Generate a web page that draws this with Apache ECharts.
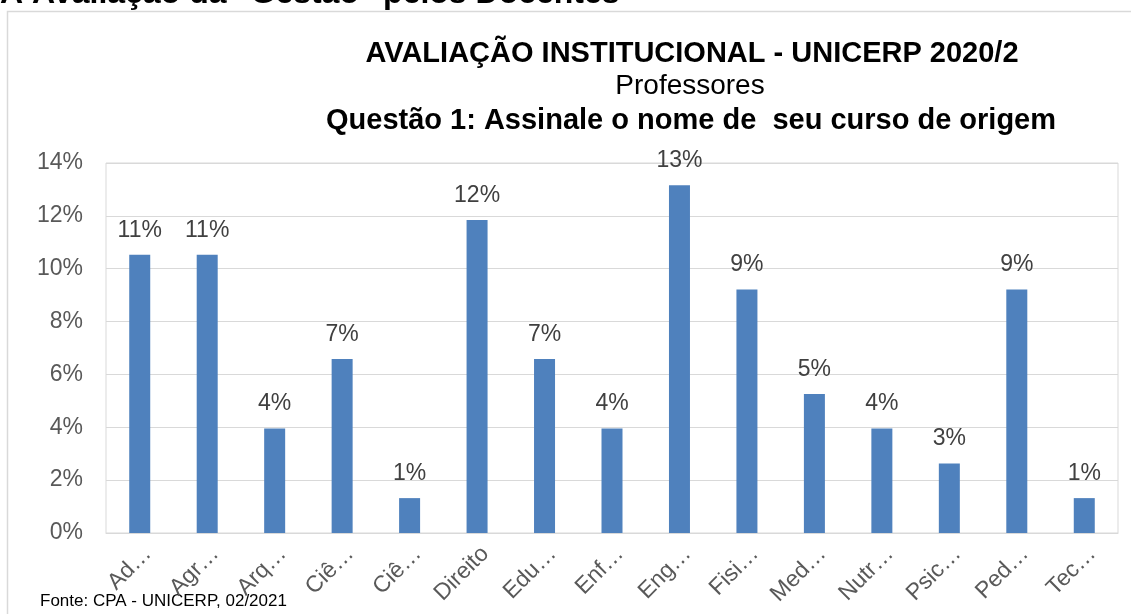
<!DOCTYPE html>
<html>
<head>
    <meta charset="utf-8">
    <title>Avaliação Institucional - Professores</title>
    <script src="https://cdn.jsdelivr.net/npm/echarts@6/dist/echarts.min.js"></script>
    <style>
        html, body { margin: 0; padding: 0; background: #fff; }
        #main { width: 1131px; height: 614px; }
    </style>
</head>
<body>
<div id="main"></div>
<script type="text/javascript">
// cursos (rótulos truncados como no original)
var cursos = ['Ad…', 'Agr…', 'Arq…', 'Ciê…', 'Ciê…', 'Direito', 'Edu…', 'Enf…',
              'Eng…', 'Fisi…', 'Med…', 'Nutr…', 'Psic…', 'Ped…', 'Tec…'];
// percentual de professores por curso
var percentuais = [10.53, 10.53, 3.95, 6.58, 1.32, 11.84, 6.58, 3.95,
                   13.16, 9.21, 5.26, 3.95, 2.63, 9.21, 1.32];
var eixoY = [0, 2, 4, 6, 8, 10, 12, 14];

var fonte = 'Liberation Sans, Arial, sans-serif';
var myChart = echarts.init(document.getElementById('main'));

var option = {
    animation: false,
    backgroundColor: '#fff',
    title: [
        {
            text: 'AVALIAÇÃO INSTITUCIONAL - UNICERP 2020/2',
            left: 687, top: 34, textAlign: 'center',
            textStyle: { fontFamily: fonte, fontSize: 29, fontWeight: 'bold', color: '#000' }
        },
        {
            text: 'Professores',
            left: 685, top: 67, textAlign: 'center',
            textStyle: { fontFamily: fonte, fontSize: 28, fontWeight: 'normal', color: '#000' }
        },
        {
            text: 'Questão 1: Assinale o nome de  seu curso de origem',
            left: 686, top: 101, textAlign: 'center',
            textStyle: { fontFamily: fonte, fontSize: 29, fontWeight: 'bold', color: '#000' }
        }
    ],
    graphic: [
        {
            type: 'rect', silent: true,
            shape: { x: 7.5, y: 11.5, width: 1140, height: 620 },
            style: { fill: null, stroke: '#d9d9d9', lineWidth: 1.5 }
        },
        {
            type: 'text', x: 0, y: 10,
            style: {
                text: 'A Avaliação da "Gestão" pelos Docentes',
                font: 'bold 32px ' + fonte, fill: '#000', verticalAlign: 'bottom'
            }
        },
        {
            type: 'text', left: 40, top: 593,
            style: { text: 'Fonte: CPA - UNICERP, 02/2021', font: '17px ' + fonte, fill: '#000' }
        }
    ],
    grid: {
        left: 106, right: 13, top: 163, bottom: 81,
        show: true, borderColor: '#d9d9d9', borderWidth: 1
    },
    xAxis: {
        type: 'category',
        data: cursos,
        axisLine: { lineStyle: { color: '#d9d9d9' } },
        axisTick: { show: false },
        axisLabel: {
            rotate: 45, interval: 0, margin: 9, verticalAlign: 'top',
            fontFamily: fonte, fontSize: 23, color: '#595959'
        }
    },
    yAxis: {
        type: 'value',
        min: eixoY[0], max: eixoY[eixoY.length - 1], interval: 2,
        axisLine: { show: false },
        axisTick: { show: false },
        splitLine: { lineStyle: { color: '#d9d9d9', width: 1 } },
        axisLabel: {
            formatter: '{value}%', margin: 23,
            fontFamily: fonte, fontSize: 23, color: '#595959'
        }
    },
    series: [{
        type: 'bar',
        data: percentuais,
        barWidth: 21,
        itemStyle: { color: '#4f81bd' },
        label: {
            show: true, position: 'top', distance: 13,
            fontFamily: fonte, fontSize: 23, color: '#404040',
            formatter: function (p) { return Math.round(p.value) + '%'; }
        }
    }]
};

myChart.setOption(option);
</script>
</body>
</html>
